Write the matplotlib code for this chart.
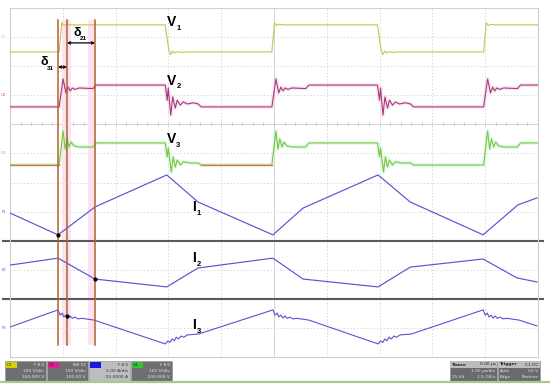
import matplotlib
matplotlib.use('Agg')
import matplotlib.pyplot as plt
from matplotlib.patches import Rectangle
import numpy as np

# time in us (1 us/div), vertical position in screen divisions (0 = bottom of grid)
v_rise_t = [0.93, 4.96, 8.97]
v_fall_t = [2.94, 6.96]

v1_rise_dt = [0, 0.05, 0.09, 0.14, 0.22]
v1_rise_d = [10.49, 11.49, 11.40, 11.44, 11.42]
v1_fall_dt = [0, 0.04, 0.07, 0.10, 0.14, 0.18, 0.23, 0.30, 0.38]
v1_fall_d = [11.42, 10.90, 10.55, 10.40, 10.52, 10.45, 10.50, 10.47, 10.49]

v2_rise_dt = [0, 0.076, 0.13, 0.17, 0.21, 0.25, 0.30, 0.38, 0.64, 0.70]
v2_rise_d = [8.60, 9.56, 9.08, 9.28, 9.15, 9.25, 9.20, 9.25, 9.23, 9.35]
v2_fall_dt = [0, 0.038, 0.057, 0.104, 0.142, 0.19, 0.227, 0.284, 0.34, 0.417, 0.53, 0.625, 0.68]
v2_fall_d = [9.35, 8.83, 9.25, 8.32, 8.94, 8.56, 8.83, 8.66, 8.77, 8.70, 8.74, 8.70, 8.60]

v3_rise_dt = [0, 0.076, 0.114, 0.15, 0.19, 0.227, 0.284, 0.38, 0.64, 0.70]
v3_rise_d = [6.60, 7.77, 7.15, 7.50, 7.22, 7.39, 7.26, 7.22, 7.22, 7.36]
v3_fall_dt = [0, 0.038, 0.057, 0.114, 0.15, 0.19, 0.227, 0.284, 0.34, 0.47, 0.625, 0.68]
v3_fall_d = [7.36, 6.88, 7.19, 6.36, 6.88, 6.53, 6.77, 6.60, 6.71, 6.67, 6.67, 6.60]

# overlapping red trace on the V3 low level
c3_low_start = [0.0, 3.62]
c3_low_end = [0.93, 4.96]
c3_low_d = 6.60

i1_t = [0, 0.91, 1.61, 2.97, 3.56, 4.98, 5.55, 6.97, 7.58, 8.96, 9.62, 9.98]
i1_d = [4.95, 4.20, 5.16, 6.26, 5.33, 4.20, 5.12, 6.26, 5.33, 4.20, 5.23, 5.47]
i2_t = [0, 0.91, 1.61, 2.97, 3.56, 4.98, 5.55, 6.97, 7.58, 8.96, 9.60, 9.98]
i2_d = [3.16, 3.40, 2.68, 2.41, 3.06, 3.40, 2.68, 2.41, 3.09, 3.37, 2.72, 2.58]

i3_peak_t = [0.91, 4.98, 8.96]
i3_min_t = [2.94, 6.97]
i3_peak_dt = [0, 0.04, 0.08, 0.11, 0.15, 0.19, 0.23, 0.27, 0.32, 0.38, 0.45, 0.68]
i3_peak_d = [1.62, 1.44, 1.51, 1.38, 1.44, 1.34, 1.41, 1.33, 1.37, 1.31, 1.33, 1.27]
i3_min_dt = [0, 0.05, 0.09, 0.13, 0.17, 0.21, 0.25, 0.30, 0.35, 0.42, 0.63]
i3_min_d = [0.45, 0.55, 0.50, 0.62, 0.56, 0.68, 0.62, 0.72, 0.68, 0.76, 0.79]
i3_start_d = 1.03
i3_end = (9.98, 1.07)

cursor_t = [0.909, 1.08, 1.61]
cursor_top, cursor_bottom = 11.59, 0.41
band_t = [(0.98, 1.155), (1.48, 1.61)]
dots_t = [0.909, 1.61, 1.08]
dots_d = [4.20, 2.68, 1.41]

C_V1 = '#c6c65e'
C_V2 = '#a8387a'
C_V3 = '#7cc944'
C_I = '#5a52d6'
C_CUR = '#b2602e'


def edge_trace(start_d, rise_edges, fall_edges, rise, fall, end=None):
    edges = sorted([(t, rise) for t in rise_edges] + [(t, fall) for t in fall_edges],
                   key=lambda e: e[0])
    ts, ds = [0.0], [start_d]
    for t0, (dt, dv) in edges:
        ts += [t0 + x for x in dt]
        ds += list(dv)
    if end is None:
        ts.append(10.0)
        ds.append(ds[-1])
    else:
        ts.append(end[0])
        ds.append(end[1])
    return ts, ds


fig = plt.figure(figsize=(5.5, 3.91), dpi=100)
ax = fig.add_axes([10 / 550, 34 / 391, 528 / 550, 349 / 391])
ax.set_xlim(0, 10)
ax.set_ylim(0, 12)

# graticule
for t in range(1, 10):
    ax.axvline(t, color='#cccccc', lw=0.6, ls=(0, (1.5, 2.5)) if t != 5 else '-', zorder=1)
for d in range(1, 12):
    if d in (2, 4):
        continue
    ax.axhline(d, color='#cccccc', lw=0.6, ls='-' if d == 8 else (0, (1.5, 2.5)), zorder=1)
ax.plot(np.arange(0.2, 10, 0.2), np.full(49, 8), ls='none', marker='|', ms=2.5,
        mew=0.5, color='#c4c4c4', zorder=1)
for d in (2, 4):
    ax.plot([-0.13, 10.09], [d, d], color='#5a5a5a', lw=1.5, clip_on=False, zorder=2)
for s in ax.spines.values():
    s.set_color('#cfcfcf')
    s.set_linewidth(0.8)
ax.set_xticks([])
ax.set_yticks([])

# cursor highlight bands
for a, b in band_t:
    ax.fill_between([a, b], cursor_bottom, cursor_top, color='#fbe4ef', lw=0, zorder=1.5)

# voltage traces
t1, d1 = edge_trace(v1_fall_d[-1], v_rise_t, v_fall_t, (v1_rise_dt, v1_rise_d), (v1_fall_dt, v1_fall_d))
t2, d2 = edge_trace(v2_fall_d[-1], v_rise_t, v_fall_t, (v2_rise_dt, v2_rise_d), (v2_fall_dt, v2_fall_d))
t3, d3 = edge_trace(v3_fall_d[-1], v_rise_t, v_fall_t, (v3_rise_dt, v3_rise_d), (v3_fall_dt, v3_fall_d))
ax.plot(t2, d2, color='#f6cde4', lw=3.0, alpha=0.45, zorder=2.5)
ax.plot(t3, d3, color='#cdf3df', lw=3.0, alpha=0.45, zorder=2.5)
ax.plot(t1, d1, color=C_V1, lw=0.85, zorder=3)
ax.plot(t2, d2, color=C_V2, lw=0.8, zorder=3)
ax.plot(t3, d3, color=C_V3, lw=0.85, zorder=3)
for a, b in zip(c3_low_start, c3_low_end):
    ax.plot([a, b], [c3_low_d, c3_low_d], color='#e2704a', lw=0.85, zorder=3.1)

# current traces
ti3, di3 = edge_trace(i3_start_d, i3_peak_t, i3_min_t, (i3_peak_dt, i3_peak_d),
                      (i3_min_dt, i3_min_d), end=i3_end)
ax.plot(i1_t, i1_d, color=C_I, lw=0.85, zorder=3)
ax.plot(i2_t, i2_d, color=C_I, lw=0.85, zorder=3)
ax.plot(ti3, di3, color=C_I, lw=0.8, zorder=3)

# cursors
for t in cursor_t:
    ax.plot([t, t], [cursor_bottom, cursor_top], color=C_CUR, lw=1.1, zorder=4)
ax.plot(dots_t, dots_d, 'o', color='black', ms=2, zorder=5)

# delay arrows
ax.annotate('', xy=(0.909, 9.97), xytext=(1.08, 9.97),
            arrowprops=dict(arrowstyle='<->', color='black', lw=0.9,
                            mutation_scale=4, shrinkA=0, shrinkB=0), zorder=6)
ax.annotate('', xy=(1.08, 10.80), xytext=(1.61, 10.80),
            arrowprops=dict(arrowstyle='<->', color='black', lw=0.9,
                            mutation_scale=4, shrinkA=0, shrinkB=0), zorder=6)
bold = dict(fontweight='bold', color='black', family='Liberation Sans', zorder=7)
ax.text(0.65, 10.13, 'δ', fontsize=9, ha='center', va='center', **bold)
ax.text(0.77, 9.93, '31', fontsize=4.5, ha='center', va='center', **bold)
ax.text(1.27, 11.14, 'δ', fontsize=9, ha='center', va='center', **bold)
ax.text(1.39, 10.94, '21', fontsize=4.5, ha='center', va='center', **bold)

# trace labels
labels = [('V', '1', 3.05, 11.52), ('V', '2', 3.05, 9.50), ('V', '3', 3.05, 7.48),
          ('I', '1', 3.48, 5.16), ('I', '2', 3.48, 3.40), ('I', '3', 3.48, 1.10)]
for big, sub, t, d in labels:
    ax.text(t, d, big, fontsize=10, ha='center', va='center', **bold)
    ax.text(t + (0.14 if big == 'V' else 0.09), d - 0.21, sub, fontsize=5.5,
            ha='center', va='center', **bold)

# ground markers at the left edge
markers = [('C1', 11, C_V1), ('C2', 9, '#d0409a'), ('C3', 7, C_V3),
           ('F1', 5, C_I), ('F2', 3, C_I), ('F3', 1, C_I)]
for name, d, c in markers:
    ax.text(-0.07, d, name, fontsize=2.8, color=c, ha='right', va='center', clip_on=False)

# scope status bar
ui = fig.add_axes([0, 0, 1, 1])
ui.set_xlim(0, 550)
ui.set_ylim(391, 0)
ui.axis('off')
ui.patch.set_alpha(0)
ui.plot([0, 550], [382, 382], color='#a9c893', lw=1.6)

chan_boxes = [(5, 'C1', '#d2d200', '#6f6f6f', 'F B D', '100 V/div', '300.000 V'),
              (47, 'C2', '#e0208e', '#6f6f6f', 'BW DC', '100 V/div', '100.00 V'),
              (89, '', '#1818e0', '#bdbdbd', 'F B D', '5.00 A/div', '-15.0000 A'),
              (131, 'C4', '#38c038', '#6f6f6f', 'F B D', '100 V/div', '-100.000 V')]
for x0, tag, tc, bc, l1, l2, l3 in chan_boxes:
    ui.add_patch(Rectangle((x0, 361), 41, 20, facecolor=bc, edgecolor='#999999', lw=0.5))
    ui.add_patch(Rectangle((x0 + 1, 362), 11, 6, facecolor=tc, lw=0))
    txt = '#333333' if bc == '#bdbdbd' else '#e6e6e6'
    ui.text(x0 + 2, 365, tag, fontsize=3, color='#222222', va='center')
    ui.text(x0 + 39, 365, l1, fontsize=2.8, color=txt, ha='right', va='center')
    ui.text(x0 + 39, 371, l2, fontsize=3.2, color=txt, ha='right', va='center')
    ui.text(x0 + 39, 377, l3, fontsize=3.2, color=txt, ha='right', va='center')

info_boxes = [(450, 47, ('Tbase', '0.00 µs'), ('', '1.00 µs/div'), ('25 kS', '2.5 GS/s')),
              (498, 42, ('Trigger', 'C1 DC'), ('Auto', '50 V'), ('Edge', 'Positive'))]
for x0, w, r1, r2, r3 in info_boxes:
    ui.add_patch(Rectangle((x0, 361), w, 20, facecolor='#6a6a6a', edgecolor='#999999', lw=0.5))
    ui.add_patch(Rectangle((x0, 361), w, 7, facecolor='#bcbcbc', lw=0))
    for (a, b), y, c in zip((r1, r2, r3), (364.5, 371, 377), ('#222222', '#e6e6e6', '#e6e6e6')):
        ui.text(x0 + 1.5, y, a, fontsize=3.2, color=c, va='center', fontweight='bold' if y < 366 else 'normal')
        ui.text(x0 + w - 1.5, y, b, fontsize=3.2, color=c, ha='right', va='center')

fig.savefig('out.png', dpi=100)
